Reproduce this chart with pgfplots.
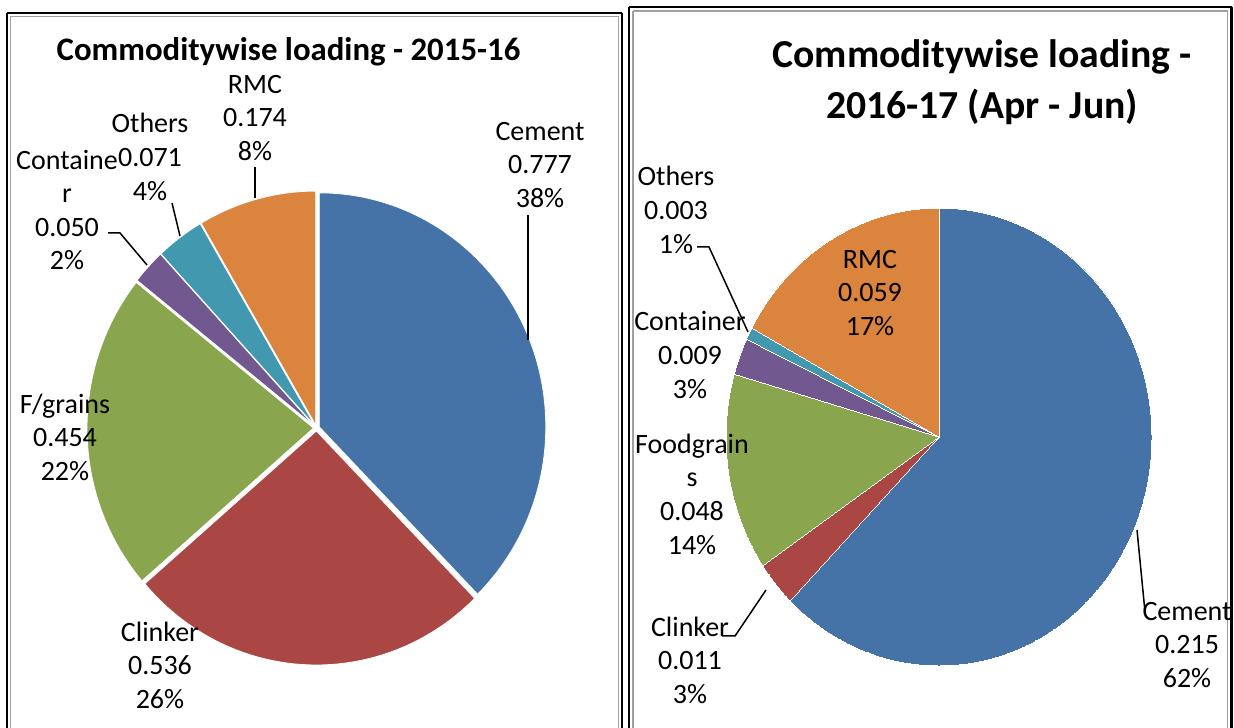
\documentclass[border=0pt]{standalone}
\usepackage{fontspec}
\setmainfont{Carlito}
\usepackage{pgfplots}
\pgfplotsset{compat=1.18}
\definecolor{cCem}{HTML}{4572A7}
\definecolor{cCli}{HTML}{AA4643}
\definecolor{cFood}{HTML}{89A54E}
\definecolor{cCon}{HTML}{71588F}
\definecolor{cOth}{HTML}{4198AF}
\definecolor{cRMC}{HTML}{DB843D}
\definecolor{cGray}{HTML}{A0A0A0}
\makeatletter
\newcommand\mkangles[2]{%
  \gdef\pie@tot{0}%
  \foreach \v in {#2}{\pgfmathparse{\pie@tot+\v}\xdef\pie@tot{\pgfmathresult}}%
  \gdef\pie@cum{0}%
  \expandafter\xdef\csname #1@0\endcsname{90}%
  \foreach \v [count=\i] in {#2}{%
    \pgfmathparse{\pie@cum+\v}\xdef\pie@cum{\pgfmathresult}%
    \pgfmathparse{90-360*\pie@cum/\pie@tot}%
    \expandafter\xdef\csname #1@\i\endcsname{\pgfmathresult}}%
}
\newcommand\ang[2]{\csname #1@#2\endcsname}
\makeatother
% values: Cement, Clinker, Foodgrains, Container, Others, RMC
\mkangles{L}{0.777,0.536,0.454,0.050,0.071,0.174}
\mkangles{R}{0.215,0.011,0.048,0.009,0.003,0.059}
% cx, cy (axis units), rx, ry (pt), a1, a2, colour, explode (pt), border
\newcommand\slice[9]{%
  \filldraw[fill=#7, draw=white, line width=#9] (axis cs:#1,#2) ++({(#5+#6)/2}:#8pt)
    -- ++(#5:#3pt and #4pt) arc[start angle=#5, end angle=#6, x radius=#3pt, y radius=#4pt] -- cycle;}
\newcommand\lab{\fontsize{14}{16.8}\selectfont}
\begin{document}
\begin{tikzpicture}
\begin{axis}[x=0.5pt, y=0.5pt, xmin=0, xmax=1234, ymin=0, ymax=727,
  hide axis, scale only axis, anchor=origin, at={(0,0)}, clip=true]
% panel frames
\draw[black, line width=1.25pt] (axis cs:7,714) -- (axis cs:622,714);
\draw[black, line width=1.25pt] (axis cs:7,714) -- (axis cs:7,-20);
\draw[black, line width=1.25pt] (axis cs:622,714) -- (axis cs:622,-20);
\draw[cGray, line width=0.8pt] (axis cs:10.5,710.5) -- (axis cs:618.5,710.5);
\draw[cGray, line width=0.8pt] (axis cs:10.5,710.5) -- (axis cs:10.5,-20);
\draw[cGray, line width=0.8pt] (axis cs:618.5,710.5) -- (axis cs:618.5,-20);
\draw[black, line width=1.25pt] (axis cs:629,720) -- (axis cs:1231.5,720);
\draw[black, line width=1.25pt] (axis cs:629,720) -- (axis cs:629,-20);
\draw[black, line width=1.25pt] (axis cs:1231.5,720) -- (axis cs:1231.5,-20);
\draw[cGray, line width=0.8pt] (axis cs:633,716) -- (axis cs:1227.5,716);
\draw[cGray, line width=0.8pt] (axis cs:633,716) -- (axis cs:633,-20);
\draw[cGray, line width=0.8pt] (axis cs:1227.5,716) -- (axis cs:1227.5,-20);
% left pie
\slice{316.5}{299}{113.25}{117}{\ang{L}{0}}{\ang{L}{1}}{cCem}{1.5}{0.4pt}
\slice{316.5}{299}{113.25}{117}{\ang{L}{1}}{\ang{L}{2}}{cCli}{1.5}{0.4pt}
\slice{316.5}{299}{113.25}{117}{\ang{L}{2}}{\ang{L}{3}}{cFood}{1.5}{0.4pt}
\slice{316.5}{299}{113.25}{117}{\ang{L}{3}}{\ang{L}{4}}{cCon}{1.5}{0.4pt}
\slice{316.5}{299}{113.25}{117}{\ang{L}{4}}{\ang{L}{5}}{cOth}{1.5}{0.4pt}
\slice{316.5}{299}{113.25}{117}{\ang{L}{5}}{\ang{L}{6}}{cRMC}{1.5}{0.4pt}
% right pie
\slice{939}{290}{106.5}{114.5}{\ang{R}{0}}{\ang{R}{1}}{cCem}{0}{0pt}
\slice{939}{290}{106.5}{114.5}{\ang{R}{1}}{\ang{R}{2}}{cCli}{0}{0pt}
\slice{939}{290}{106.5}{114.5}{\ang{R}{2}}{\ang{R}{3}}{cFood}{0}{0pt}
\slice{939}{290}{106.5}{114.5}{\ang{R}{3}}{\ang{R}{4}}{cCon}{0}{0pt}
\slice{939}{290}{106.5}{114.5}{\ang{R}{4}}{\ang{R}{5}}{cOth}{0}{0pt}
\slice{939}{290}{106.5}{114.5}{\ang{R}{5}}{\ang{R}{6}}{cRMC}{0}{0pt}
% left titles and labels
\node[font=\fontsize{16.4}{19}\selectfont\bfseries] at (axis cs:288.5,675) {Commoditywise loading - 2015-16};
\node[font=\lab, align=center] at (axis cs:255,609) {RMC\\0.174\\8\%};
\node[font=\lab, align=center] at (axis cs:150,570) {Others\\0.071\\4\%};
\node[font=\lab, align=center] at (axis cs:67,517) {Containe\\r\\0.050\\2\%};
\node[font=\lab, align=center] at (axis cs:65,290) {F/grains\\0.454\\22\%};
\node[font=\lab, align=center] at (axis cs:160,62) {Clinker\\0.536\\26\%};
\node[font=\lab, align=center] at (axis cs:540,562) {Cement\\0.777\\38\%};
\draw[black, line width=0.75pt] (axis cs:255,560) -- (axis cs:255,529);
\draw[black, line width=0.75pt] (axis cs:172,524) -- (axis cs:180,491);
\draw[black, line width=0.75pt] (axis cs:108,494) -- (axis cs:120,494) -- (axis cs:147,462);
\draw[black, line width=0.75pt] (axis cs:528,512) -- (axis cs:528,387);
% right titles and labels
\node[font=\fontsize{19.85}{25.5}\selectfont\bfseries, align=center] at (axis cs:982,644.5) {Commoditywise loading -\\2016-17 (Apr - Jun)};
\node[font=\lab, align=center] at (axis cs:676,517) {Others\\0.003\\1\%};
\node[font=\lab, align=center] at (axis cs:870,434) {RMC\\0.059\\17\%};
\node[font=\lab, align=center] at (axis cs:690,372) {Container\\0.009\\3\%};
\node[font=\lab, align=center] at (axis cs:692,233) {Foodgrain\\s\\0.048\\14\%};
\node[font=\lab, align=center] at (axis cs:690,67) {Clinker\\0.011\\3\%};
\node[font=\lab, align=center] at (axis cs:1187,82) {Cement\\0.215\\62\%};
\draw[black, line width=0.75pt] (axis cs:697,480) -- (axis cs:709,480) -- (axis cs:748,395);
\draw[black, line width=0.75pt] (axis cs:722,91) -- (axis cs:735,91) -- (axis cs:766,137);
\draw[black, line width=0.75pt] (axis cs:1137,197) -- (axis cs:1145,115);
\end{axis}
\pgfresetboundingbox
\path (0,0) rectangle (617pt,363.5pt);
\end{tikzpicture}
\end{document}
